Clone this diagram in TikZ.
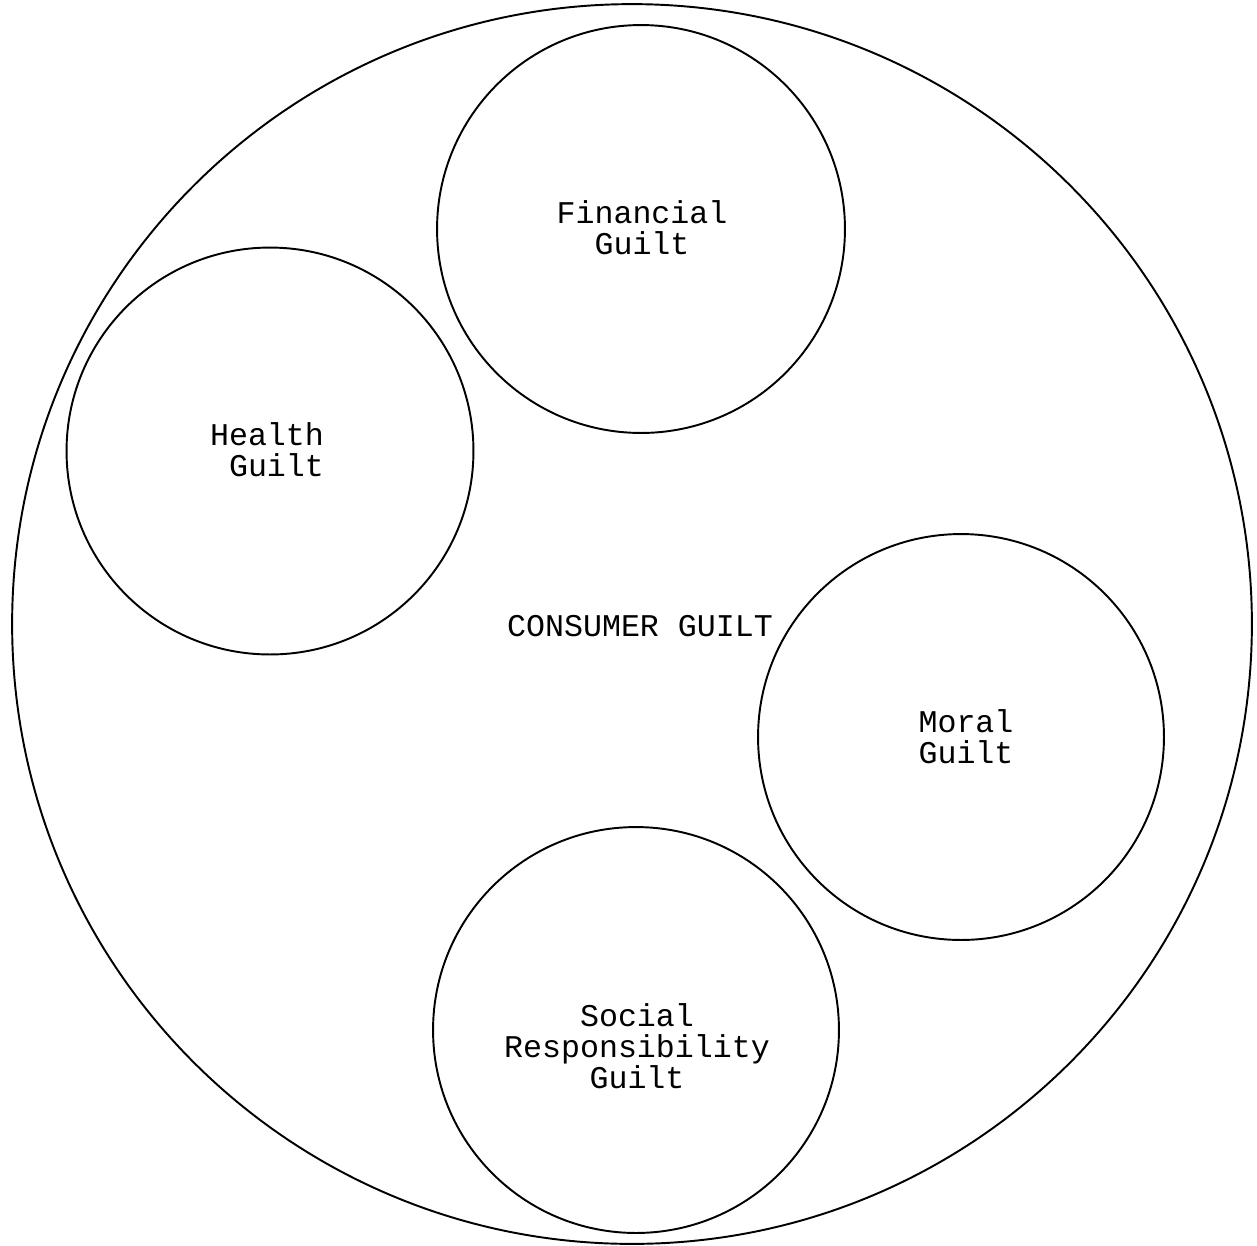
\documentclass[tikz,border=0pt]{standalone}
\usepackage{fontspec}
\setmonofont{Liberation Mono}
\begin{document}
\begin{tikzpicture}[x=0.02cm,y=-0.02cm,
  ring/.style={draw=black,line width=1.1pt,circle,inner sep=0pt},
  lbl/.style={font=\ttfamily\fontsize{18}{17.6}\selectfont,align=center,inner sep=0pt}]
\useasboundingbox (0,0) rectangle (1257,1245);
\node[ring,minimum size=24.8cm] (outer) at (632,624) {};
\node[ring,minimum size=8.16cm] (fin) at (641,229) {};
\node[ring,minimum size=8.14cm] (health) at (270,451) {};
\node[ring,minimum size=8.12cm] (moral) at (961,737) {};
\node[ring,minimum size=8.12cm] (social) at (636,1030) {};
\node[lbl] (tfin) at (642,228) {Financial\\Guilt};
\node[lbl,align=right] (thealth) at (267,450) {Health\\Guilt};
\node[lbl] (tcons) at (640,626) {CONSUMER GUILT};
\node[lbl] (tmoral) at (966,737) {Moral\\Guilt};
\node[lbl] (tsocial) at (637,1046) {Social\\Responsibility\\Guilt};
\end{tikzpicture}
\end{document}
